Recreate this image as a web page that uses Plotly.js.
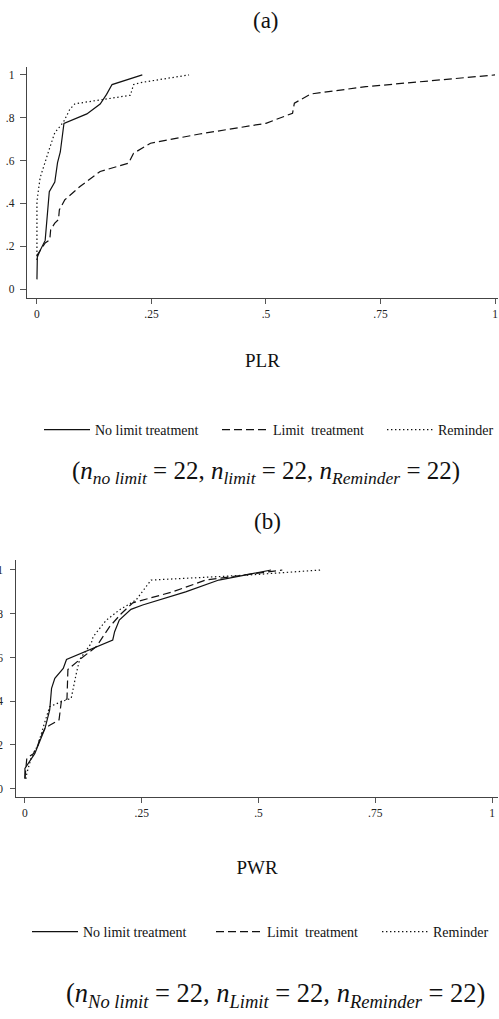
<!DOCTYPE html>
<html><head><meta charset="utf-8">
<script src="https://cdn.plot.ly/plotly-3.0.1.min.js"></script>
<style>html,body{margin:0;padding:0;background:#fff;}</style>
</head><body><div id="chart" style="width:499px;height:1019px;"></div>
<script>
// ---- Panel (a): PLR ----
const plrNoLimitX = [0, 0, 0, 0.001, 0.007, 0.018, 0.027, 0.039, 0.045, 0.051, 0.059, 0.109, 0.138, 0.152, 0.164, 0.23];
const plrNoLimitY = [0.045, 0.09, 0.136, 0.16, 0.18, 0.227, 0.455, 0.5, 0.59, 0.64, 0.773, 0.818, 0.864, 0.909, 0.955, 1.0];
const plrLimitX = [0.001, 0.007, 0.018, 0.028, 0.030, 0.039, 0.047, 0.049, 0.061, 0.094, 0.138, 0.2, 0.211, 0.248, 0.355, 0.5, 0.558, 0.562, 0.598, 0.718, 1.0];
const plrLimitY = [0.15, 0.18, 0.215, 0.23, 0.277, 0.308, 0.324, 0.37, 0.417, 0.479, 0.549, 0.588, 0.634, 0.681, 0.724, 0.774, 0.821, 0.868, 0.911, 0.945, 1.0];
const plrReminderX = [0, 0, 0.007, 0.014, 0.028, 0.039, 0.058, 0.072, 0.083, 0.204, 0.211, 0.226, 0.332];
const plrReminderY = [0.136, 0.41, 0.52, 0.57, 0.66, 0.73, 0.78, 0.84, 0.865, 0.905, 0.955, 0.964, 1.0];

// ---- Panel (b): PWR ----
const pwrNoLimitX = [0, 0, 0.021, 0.028, 0.043, 0.053, 0.057, 0.064, 0.082, 0.089, 0.188, 0.192, 0.202, 0.227, 0.252, 0.344, 0.415, 0.479, 0.527];
const pwrNoLimitY = [0.045, 0.093, 0.16, 0.2, 0.276, 0.36, 0.459, 0.505, 0.55, 0.591, 0.68, 0.718, 0.771, 0.82, 0.84, 0.9, 0.954, 0.98, 1.0];
const pwrLimitX = [0, 0.004, 0.018, 0.028, 0.032, 0.043, 0.053, 0.073, 0.078, 0.09, 0.092, 0.117, 0.153, 0.181, 0.206, 0.231, 0.316, 0.387, 0.479, 0.551];
const pwrLimitY = [0.047, 0.139, 0.16, 0.2, 0.23, 0.276, 0.29, 0.315, 0.40, 0.41, 0.545, 0.59, 0.65, 0.74, 0.8, 0.85, 0.9, 0.954, 0.98, 1.0];
const pwrReminderX = [0.002, 0.004, 0.014, 0.028, 0.039, 0.053, 0.078, 0.099, 0.11, 0.117, 0.142, 0.146, 0.174, 0.202, 0.238, 0.27, 0.344, 0.479, 0.634];
const pwrReminderY = [0.045, 0.07, 0.146, 0.2, 0.28, 0.375, 0.398, 0.413, 0.527, 0.59, 0.665, 0.695, 0.77, 0.817, 0.863, 0.954, 0.962, 0.977, 1.0];

// ---- Labels ----
const seriesNames = ["No limit treatment", "Limit\u00a0 treatment", "Reminder"];
const xTickVals = [0, 0.25, 0.5, 0.75, 1];
const xTickText = ["0", ".25", ".5", ".75", "1"];
const yTickVals = [0, 0.2, 0.4, 0.6, 0.8, 1];
const yTickText = ["0", ".2", ".4", ".6", ".8", "1"];

const FONT = '"Liberation Serif", "Times New Roman", serif';
const INK = "#111";
const dashes = ["solid", "8px,4px", "1.4px,2.6px"];

function mk(x, y, i, xa, ya, leg) {
  return {x: x, y: y, type: "scatter", mode: "lines", name: seriesNames[i],
    xaxis: xa, yaxis: ya, legend: leg, showlegend: true,
    line: {color: INK, width: 1.2, dash: dashes[i]}, hoverinfo: "x+y"};
}
const data = [
  mk(plrNoLimitX, plrNoLimitY, 0, "x", "y", "legend"),
  mk(plrLimitX, plrLimitY, 1, "x", "y", "legend2"),
  mk(plrReminderX, plrReminderY, 2, "x", "y", "legend3"),
  mk(pwrNoLimitX, pwrNoLimitY, 0, "x2", "y2", "legend4"),
  mk(pwrLimitX, pwrLimitY, 1, "x2", "y2", "legend5"),
  mk(pwrReminderX, pwrReminderY, 2, "x2", "y2", "legend6")
];

function xax(domain, range, anchor, title, standoff) {
  return {domain: domain, range: range, anchor: anchor, automargin: false,
    tickmode: "array", tickvals: xTickVals, ticktext: xTickText,
    ticks: "outside", ticklen: 5, tickwidth: 1, tickcolor: "#555",
    showline: true, linecolor: "#444", linewidth: 1.2,
    showgrid: false, zeroline: false, fixedrange: true, ticklabeloverflow: "allow",
    tickfont: {family: FONT, size: 11.5, color: "#222"},
    title: {text: title, font: {family: FONT, size: 19, color: "#111"}, standoff: standoff}};
}
function yax(domain, range, anchor, ticklen, lstand) {
  return {domain: domain, range: range, anchor: anchor, automargin: false,
    tickmode: "array", tickvals: yTickVals, ticktext: yTickText,
    ticks: "outside", ticklen: ticklen, tickwidth: 1, tickcolor: "#555",
    showline: true, linecolor: "#444", linewidth: 1.2, ticklabelstandoff: lstand,
    showgrid: false, zeroline: false, fixedrange: true, ticklabeloverflow: "allow",
    tickfont: {family: FONT, size: 11.5, color: "#222"}};
}

const H = 1019;
function leg(xpx, ypx) {
  return {visible: true, orientation: "h", xanchor: "left", yanchor: "middle", itemwidth: 46,
    x: xpx/499, y: 1 - ypx/H,
    font: {family: FONT, size: 14, color: "#111"}, bgcolor: "rgba(0,0,0,0)"};
}
const layout = {
  width: 499, height: 1019,
  margin: {l: 0, r: 0, t: 0, b: 0},
  showlegend: true,
  paper_bgcolor: "#fff", plot_bgcolor: "#fff",
  font: {family: FONT, color: "#111"},
  xaxis: xax([27/499, 1], [-0.0218, 1.0065], "y", "PLR", 34),
  yaxis: yax([1 - 298/H, 1 - 67/H], [-0.042, 1.037], "x", 6, 3),
  xaxis2: xax([16/499, 1], [-0.0192, 1.0128], "y2", "PWR", 42),
  yaxis2: yax([1 - 797/H, 1 - 560/H], [-0.038, 1.0457], "x2", 4.5, 5),
  legend: leg(39, 430),
  legend2: leg(217, 430),
  legend3: leg(383, 430),
  legend4: leg(27, 932),
  legend5: leg(211, 932),
  legend6: leg(377, 932),
  annotations: [
    {text: "(a)", xref: "paper", yref: "paper", x: 267/499, y: 1 - 21/H, showarrow: false,
      xanchor: "center", yanchor: "middle", font: {family: FONT, size: 23, color: "#111"}},
    {text: "(b)", xref: "paper", yref: "paper", x: 268/499, y: 1 - 521/H, showarrow: false,
      xanchor: "center", yanchor: "middle", font: {family: FONT, size: 23, color: "#111"}},
    {text: "(<i>n</i><sub><i>no limit</i></sub> = 22, <i>n</i><sub><i>limit</i></sub> = 22, <i>n</i><sub><i>Reminder</i></sub> = 22)",
      xref: "paper", yref: "paper", x: 267/499, y: 1 - 472/H, showarrow: false,
      xanchor: "center", yanchor: "middle", font: {family: FONT, size: 25, color: "#111"}},
    {text: "(<i>n</i><sub><i>No limit</i></sub> = 22, <i>n</i><sub><i>Limit</i></sub> = 22, <i>n</i><sub><i>Reminder</i></sub> = 22)",
      xref: "paper", yref: "paper", x: 276/499, y: 1 - 995/H, showarrow: false,
      xanchor: "center", yanchor: "middle", font: {family: FONT, size: 26.5, color: "#111"}}
  ]
};
Plotly.newPlot("chart", data, layout, {displayModeBar: false, staticPlot: true});
</script>
</body></html>
